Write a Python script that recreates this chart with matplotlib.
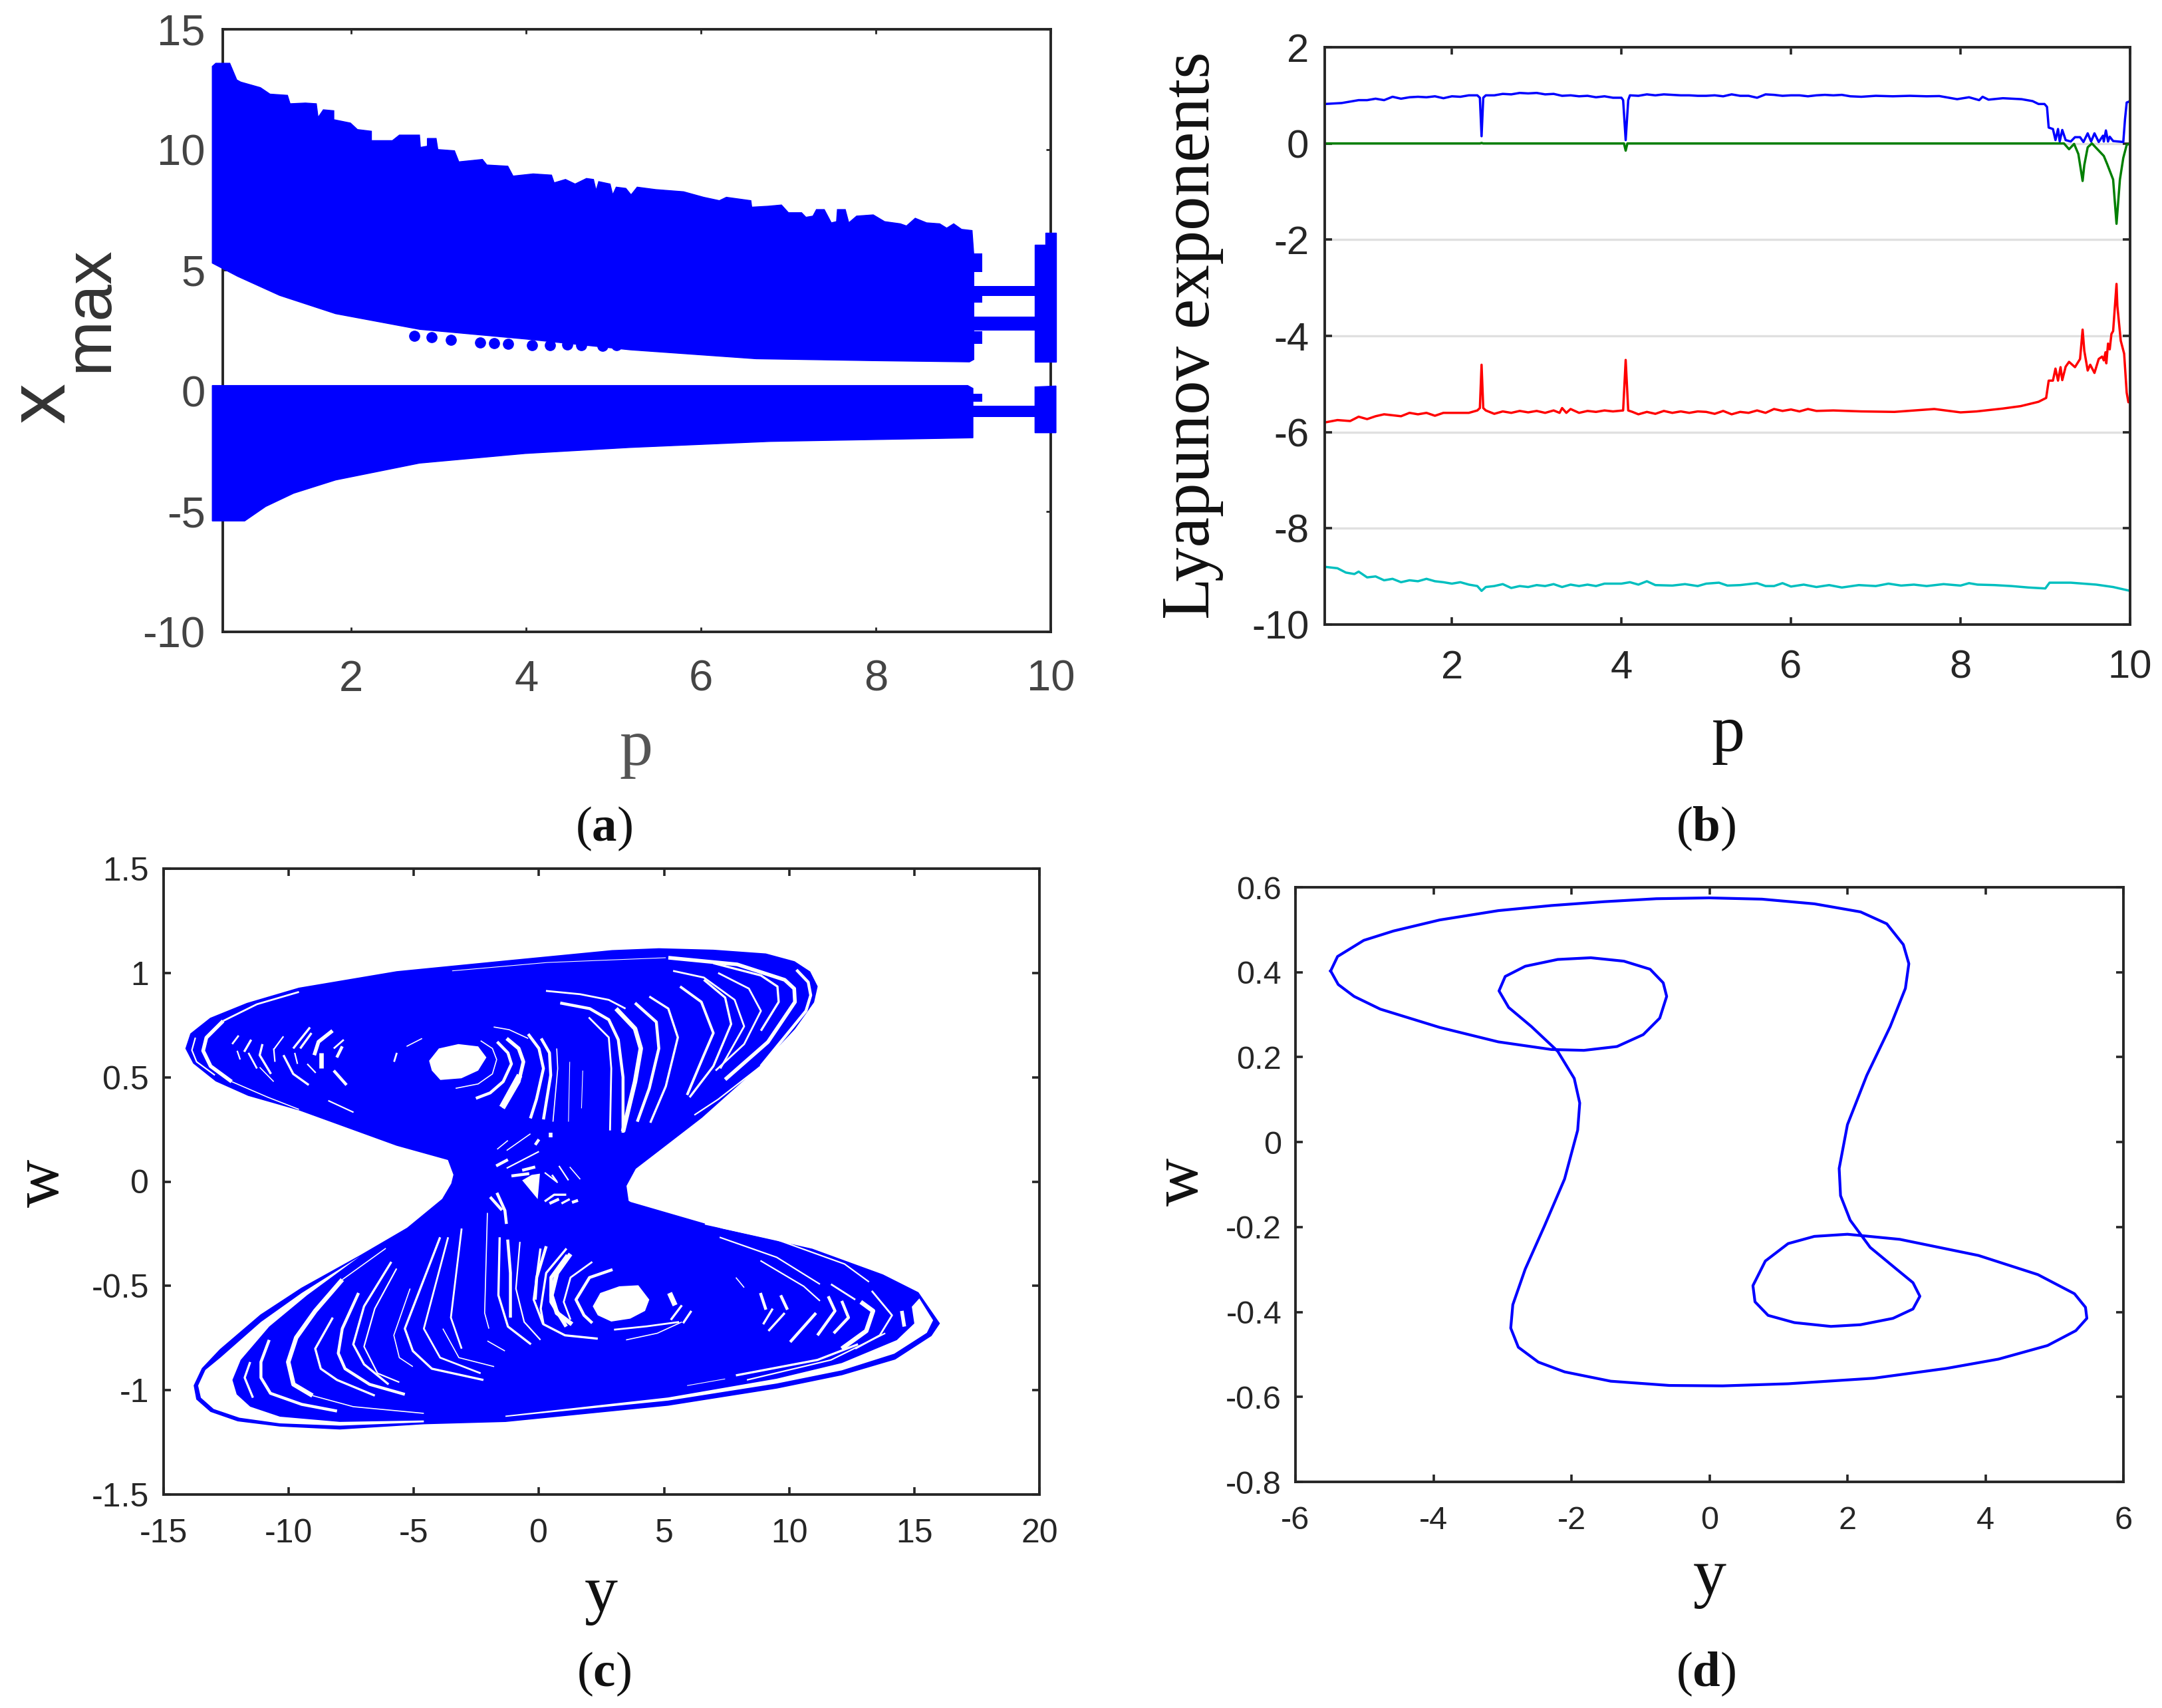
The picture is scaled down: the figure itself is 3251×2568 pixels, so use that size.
import numpy as np
import matplotlib
matplotlib.use('Agg')
import matplotlib.pyplot as plt

W, H = 3251, 2568
plt.rcParams['font.family'] = 'Liberation Sans'
plt.rcParams['mathtext.fontset'] = 'custom'
plt.rcParams['mathtext.rm'] = 'Liberation Serif'
plt.rcParams['mathtext.bf'] = 'Liberation Serif:bold'

BLUE = '#0000ff'
DARK = '#262626'
SERIF = 'Liberation Serif'

# (a) bifurcation bands
top_p = [0.41, 0.45, 0.61, 0.69, 0.735, 0.96, 1.07, 1.27, 1.3, 1.475, 1.6, 1.62, 1.68, 1.8, 1.8, 1.99, 2.07, 2.23, 2.23,
         2.47, 2.55, 2.78, 2.79, 2.87, 2.87, 2.97, 2.99, 3.18, 3.23, 3.5, 3.55, 3.79, 3.85, 4.08, 4.29, 4.32, 4.45, 4.56,
         4.69, 4.77, 4.8, 4.83, 4.96, 4.99, 5.03, 5.14, 5.2, 5.27, 5.48, 5.8, 6.03, 6.21, 6.29, 6.57, 6.58, 6.77, 6.92,
         7.0, 7.15, 7.2, 7.28, 7.32, 7.41, 7.49, 7.55, 7.56, 7.65, 7.69, 7.78, 7.97, 8.1, 8.28, 8.35, 8.45, 8.58, 8.73,
         8.81, 8.89, 8.98, 9.1, 9.12]
top_x = [13.46, 13.59, 13.59, 12.9, 12.81, 12.58, 12.31, 12.26, 11.91, 11.94, 11.91, 11.34, 11.66, 11.62, 11.25, 11.11,
         10.84, 10.77, 10.38, 10.38, 10.61, 10.61, 10.1, 10.15, 10.47, 10.47, 10.01, 9.96, 9.5, 9.6, 9.37, 9.32, 8.91, 9.0,
         8.95, 8.63, 8.77, 8.58, 8.81, 8.77, 8.31, 8.68, 8.58, 8.13, 8.45, 8.4, 8.13, 8.45, 8.35, 8.26, 8.03, 7.89, 8.03,
         7.89, 7.62, 7.66, 7.71, 7.39, 7.39, 7.2, 7.25, 7.52, 7.52, 6.97, 7.02, 7.52, 7.52, 6.97, 7.25, 7.3, 7.02, 6.93,
         6.84, 7.16, 6.97, 6.93, 6.75, 6.93, 6.7, 6.65, 5.64]
upper_low_p = [0.41, 0.70, 1.18, 1.82, 2.78, 3.99, 5.19, 6.63, 7.99, 9.07, 9.12]
upper_low_x = [5.3, 4.75, 3.96, 3.2, 2.55, 2.15, 1.7, 1.33, 1.25, 1.2, 1.3]
lower_top_p = [0.41, 9.05, 9.11]
lower_top_x = [0.22, 0.22, 0.1]
lower_low_p = [0.41, 0.78, 1.02, 1.34, 1.82, 2.78, 3.99, 5.19, 6.79, 9.11]
lower_low_x = [-5.4, -5.4, -4.8, -4.25, -3.7, -3.0, -2.6, -2.35, -2.1, -1.95]
stray_p = [2.72, 2.92, 3.14, 3.47, 3.63, 3.79, 4.07, 4.27, 4.47, 4.63, 4.87, 5.03, 5.23]
stray_x = [2.27, 2.23, 2.12, 2.0, 1.98, 1.94, 1.89, 1.89, 1.93, 1.89, 1.87, 1.89, 1.93]
# narrow periodic windows: p start, p end, x low, x high
win_p0 = [9.1, 9.1, 9.1, 9.1, 9.1, 9.1, 9.1]
win_p1 = [9.85, 9.85, 9.85, 9.22, 9.22, 9.22, 9.22]
win_lo = [3.93, 2.51, -1.08, 4.94, 3.65, 1.96, -0.44]
win_hi = [4.35, 3.07, -0.63, 5.69, 4.03, 2.46, -0.11]
block_p = [9.82, 9.82, 9.94, 9.94, 10.06, 10.06, 9.82]
block_x = [1.21, 6.05, 6.05, 6.55, 6.55, 1.21, 1.21]
block2_p = [9.82, 9.82, 10.06, 10.06]
block2_x = [-1.74, 0.16, 0.2, -1.74]

# (b) Lyapunov exponents
le1_p = [0.5, 0.7, 0.9, 1.0, 1.1, 1.2, 1.3, 1.4, 1.5, 1.6, 1.7, 1.8, 1.9, 2.0, 2.1, 2.2, 2.3, 2.33, 2.35, 2.37, 2.4,
         2.5, 2.6, 2.7, 2.8, 2.9, 3.0, 3.1, 3.2, 3.3, 3.4, 3.5, 3.6, 3.7, 3.8, 3.9, 4.0, 4.02, 4.05, 4.08, 4.1,
         4.2, 4.3, 4.4, 4.5, 4.6, 4.7, 4.8, 4.9, 5.0, 5.1, 5.2, 5.3, 5.4, 5.5, 5.6, 5.7, 5.8, 5.9, 6.0, 6.1, 6.2,
         6.3, 6.4, 6.5, 6.6, 6.7, 6.83, 7.0, 7.2, 7.4, 7.6, 7.75, 7.96, 8.1, 8.22, 8.26, 8.33, 8.5, 8.72, 8.85,
         8.92, 8.99, 9.02, 9.04, 9.09, 9.12, 9.15, 9.17, 9.2, 9.24, 9.3, 9.35, 9.41, 9.45, 9.5, 9.54, 9.58, 9.63,
         9.68, 9.69, 9.715, 9.74, 9.76, 9.8, 9.92, 9.94, 9.96, 10.0]
le1_v = [0.82, 0.84, 0.9, 0.9, 0.93, 0.9, 0.97, 0.93, 0.96, 0.97, 0.96, 0.98, 0.94, 0.98, 0.97, 1.0, 1.0, 0.95, 0.15,
         0.95, 1.0, 1.0, 1.03, 1.02, 1.05, 1.04, 1.05, 1.02, 1.03, 0.99, 1.0, 0.98, 0.99, 0.96, 0.98, 0.95, 0.95, 0.9,
         0.07, 0.9, 1.0, 0.99, 1.02, 1.0, 1.02, 1.01, 1.0, 1.0, 0.99, 0.99, 1.0, 0.98, 1.02, 0.99, 0.99, 0.95, 1.02,
         1.01, 0.99, 1.0, 1.0, 0.98, 1.0, 1.01, 1.0, 1.01, 0.98, 0.97, 0.99, 0.98, 0.99, 0.98, 0.985, 0.92, 0.96,
         0.90, 0.97, 0.91, 0.94, 0.92, 0.88, 0.82, 0.82, 0.76, 0.33, 0.30, 0.07, 0.30, 0.04, 0.28, 0.07, 0.04, 0.13,
         0.13, 0.03, 0.21, 0.04, 0.21, 0.03, 0.16, 0.04, 0.27, 0.04, 0.14, 0.05, 0.03, 0.5, 0.85, 0.88]
le2_p = [0.5, 2.33, 2.35, 2.37, 4.03, 4.05, 4.07, 9.1, 9.22, 9.28, 9.34, 9.39, 9.44, 9.46, 9.5, 9.55, 9.69, 9.73, 9.8,
         9.84, 9.88, 9.92, 9.96, 10.0]
le2_v = [0.0, 0.0, 0.01, 0.0, 0.0, -0.15, 0.0, 0.0, 0.0, -0.12, -0.01, -0.22, -0.78, -0.45, -0.08, 0.0, -0.26, -0.43,
         -0.75, -1.67, -0.75, -0.3, -0.03, 0.0]
le3_p = [0.5, 0.65, 0.8, 0.9, 1.0, 1.1, 1.2, 1.4, 1.5, 1.6, 1.7, 1.8, 1.9, 2.0, 2.1, 2.2, 2.3, 2.33, 2.35, 2.37, 2.4,
         2.5, 2.6, 2.7, 2.8, 2.9, 3.0, 3.1, 3.2, 3.27, 3.3, 3.35, 3.4, 3.5, 3.6, 3.7, 3.8, 3.9, 4.02, 4.05, 4.08, 4.13,
         4.2, 4.3, 4.4, 4.5, 4.6, 4.7, 4.8, 4.9, 5.0, 5.1, 5.2, 5.3, 5.4, 5.5, 5.6, 5.7, 5.8, 5.9, 6.0, 6.1, 6.2, 6.3,
         6.5, 6.83, 7.22, 7.69, 8.0, 8.19, 8.5, 8.71, 8.92, 9.01, 9.04, 9.09, 9.12, 9.15, 9.18, 9.2, 9.24,
         9.28, 9.35, 9.41, 9.44, 9.46, 9.5, 9.53, 9.58, 9.63, 9.67, 9.69, 9.71, 9.72, 9.74, 9.76, 9.78, 9.8, 9.84,
         9.85, 9.89, 9.93, 9.96, 9.98, 10.0]
le3_v = [-5.8, -5.75, -5.77, -5.68, -5.73, -5.67, -5.63, -5.67, -5.6, -5.63, -5.6, -5.66, -5.6, -5.6, -5.6, -5.6, -5.55,
         -5.5, -4.6, -5.5, -5.55, -5.62, -5.57, -5.6, -5.56, -5.59, -5.56, -5.6, -5.55, -5.6, -5.5, -5.6, -5.52, -5.6,
         -5.56, -5.58, -5.55, -5.57, -5.55, -4.5, -5.55, -5.58, -5.63, -5.58, -5.62, -5.56, -5.6, -5.57, -5.6, -5.57, -5.58,
         -5.62, -5.56, -5.63, -5.58, -5.6, -5.55, -5.6, -5.52, -5.56, -5.53, -5.57, -5.52, -5.56, -5.55, -5.57, -5.58,
         -5.52, -5.59, -5.57, -5.51, -5.46, -5.37, -5.29, -4.93, -4.93, -4.68, -4.93, -4.65, -4.92, -4.64, -4.54, -4.65,
         -4.48, -3.87, -4.31, -4.72, -4.6, -4.77, -4.48, -4.43, -4.51, -4.34, -4.57, -4.16, -4.28, -3.96, -3.9, -2.92,
         -3.38, -4.1, -4.37, -5.18, -5.38, -5.35]
le4_p = [0.5, 0.65, 0.75, 0.85, 0.9, 1.0, 1.1, 1.2, 1.3, 1.4, 1.5, 1.6, 1.7, 1.8, 1.9, 2.0, 2.1, 2.2, 2.3, 2.35, 2.4,
         2.5, 2.6, 2.7, 2.8, 2.9, 3.0, 3.1, 3.2, 3.3, 3.4, 3.5, 3.6, 3.7, 3.8, 4.0, 4.1, 4.2, 4.3, 4.4, 4.6, 4.75, 4.9,
         5.0, 5.15, 5.25, 5.4, 5.6, 5.7, 5.8, 5.9, 6.0, 6.15, 6.3, 6.45, 6.6, 6.8, 7.0, 7.15, 7.3, 7.45, 7.6, 7.8,
         8.0, 8.1, 8.2, 8.4, 8.6, 8.8, 9.0, 9.05, 9.3, 9.6, 9.8, 10.0]
le4_v = [-8.8, -8.83, -8.92, -8.95, -8.9, -9.02, -9.0, -9.08, -9.05, -9.12, -9.08, -9.1, -9.05, -9.1, -9.12, -9.15,
         -9.12, -9.17, -9.2, -9.3, -9.22, -9.2, -9.16, -9.24, -9.2, -9.22, -9.18, -9.2, -9.16, -9.22, -9.17, -9.2, -9.17,
         -9.2, -9.15, -9.15, -9.12, -9.17, -9.1, -9.18, -9.19, -9.16, -9.2, -9.15, -9.13, -9.19, -9.18, -9.14, -9.2, -9.2,
         -9.14, -9.21, -9.17, -9.22, -9.18, -9.23, -9.18, -9.2, -9.15, -9.19, -9.17, -9.2, -9.16, -9.19, -9.14, -9.17,
         -9.18, -9.2, -9.23, -9.25, -9.13, -9.13, -9.17, -9.22, -9.3]

# (c) attractor: outer edge, white pockets, and the light gaps between the orbits
edge_y = [-14.09, -13.9, -13.12, -11.66, -9.59, -5.68, -1.2, 2.92, 4.79, 6.97, 9.06, 10.2, 10.81, 11.1, 10.96, 10.2, 8.87,
          6.49, 4.88, 3.84, 3.46, 3.55, 3.65, 7.33, 10.91, 13.73, 15.14, 15.98, 15.66, 14.22, 12.1, 9.5, 5.16, -1.34, -4.6,
          -7.96, -10.35, -12.03, -13.11, -13.66, -13.76, -13.44, -12.73, -11.11, -9.48, -7.15, -5.25, -3.84, -3.47, -3.38,
          -3.61, -5.68, -9.59, -11.61, -12.9, -13.79, -14.09]
edge_w = [0.638, 0.707, 0.781, 0.852, 0.925, 1.004, 1.057, 1.105, 1.114, 1.107, 1.089, 1.052, 1.004, 0.935, 0.861, 0.733,
          0.564, 0.309, 0.16, 0.064, -0.02, -0.095, -0.102, -0.23, -0.326, -0.449, -0.534, -0.68, -0.737, -0.849, -0.924,
          -0.988, -1.07, -1.148, -1.159, -1.184, -1.17, -1.145, -1.10, -1.042, -0.978, -0.897, -0.807, -0.641, -0.513,
          -0.358, -0.225, -0.086, -0.011, 0.033, 0.107, 0.176, 0.346, 0.415, 0.484, 0.569, 0.638]
pocket_y = [
    [-4.39, -4.0, -3.22, -2.43, -2.1, -2.43, -3.1, -3.94, -4.28],
    [2.15, 2.45, 3.21, 3.97, 4.41, 4.24, 3.65, 2.89, 2.35],
    [-7.15, -9.48, -11.11, -12.73, -13.33, -13.62, -13.51, -13.0, -11.97, -10.35, -7.96, -4.6, -4.6, -7.96, -10.35,
     -11.54, -12.08, -12.25, -11.92, -10.78, -9.27],
    [15.2, 15.75, 15.5, 14.2, 12.1, 9.5, 5.16, -1.34, -1.34, 5.16, 9.5, 12.1, 14.3, 15.0, 14.9],
    [-0.67, -0.29, 0.04, -0.05, -0.34],
]
pocket_w = [
    [0.579, 0.638, 0.659, 0.648, 0.595, 0.532, 0.495, 0.487, 0.532],
    [-0.598, -0.534, -0.502, -0.497, -0.566, -0.62, -0.657, -0.671, -0.641],
    [-0.358, -0.534, -0.673, -0.844, -0.903, -0.978, -1.036, -1.09, -1.132, -1.159, -1.17, -1.154, -1.145, -1.152, -1.127,
     -1.079, -1.02, -0.951, -0.855, -0.695, -0.545],
    [-0.56, -0.665, -0.725, -0.825, -0.905, -0.968, -1.05, -1.128, -1.122, -1.035, -0.945, -0.87, -0.76, -0.68, -0.6],
    [0.006, 0.032, 0.038, -0.084, -0.042],
]
gaps_y = [
    # top lobe, left side
    [-13.73, -13.87, -13.68, -12.95], [-9.59, -11.27, -12.62], [-12.62, -13.29, -13.42, -13.12, -12.28],
    [-12.28, -10.83, -9.59], [-12.0, -12.26], [-11.94, -12.06], [-11.5, -11.78], [-11.61, -11.27],
    [-11.05, -11.16, -10.71], [-10.21, -10.6], [-10.6, -10.55], [-10.21, -9.82, -9.2], [-9.15, -9.82], [-9.09, -9.54],
    [-9.76, -9.65], [-8.25, -8.81, -8.98], [-8.7, -8.7], [-7.8, -8.2], [-7.86, -8.08], [-8.2, -7.69], [-9.26, -8.92],
    [-11.16, -10.6], [-8.42, -7.41], [-5.68, -5.79], [-4.67, -5.29],
    # top lobe, round the hole and to the right
    [-2.33, -1.86, -1.69, -1.86, -2.43, -3.33], [-1.67, -1.24, -1.1, -1.43, -1.95, -2.52],
    [-1.29, -0.81, -0.62, -0.81, -1.43], [-0.77, -1.48], [-0.43, 0.0, 0.18, -0.1, -0.34], [-1.81, -1.19, -0.43],
    [0.09, 0.42, 0.47, 0.18], [0.71, 0.75, 0.56], [1.23, 1.18], [1.75, 1.7], [1.99, 2.79, 2.89, 2.84],
    [0.28, 1.65, 2.79, 3.46], [0.85, 2.03, 2.79, 3.17, 3.36, 3.36], [3.08, 3.84, 4.07, 3.84, 3.36],
    [3.84, 4.69, 4.79, 4.41, 3.93], [4.41, 5.17, 5.55, 5.07, 4.45], [5.64, 6.49, 6.97, 6.59, 5.92],
    [6.59, 7.44, 7.68, 6.97, 6.02], [5.36, 6.59, 7.82, 8.2, 7.25], [7.16, 8.39, 8.87, 8.2, 7.06],
    [5.17, 7.92, 9.82, 10.2, 10.23, 9.15, 7.44], [6.97, 8.87, 9.53, 9.58, 8.87], [10.29, 10.76, 10.86, 10.67, 8.87],
    [8.87, 7.16, 6.21], [-3.47, 0.33, 5.07],
    # bottom lobe, left side
    [-7.86, -8.94, -9.7, -10.02, -9.81, -9.05], [-6.12, -7.86], [-9.05, -7.42, -4.6],
    [-10.78, -11.11, -11.11, -10.73, -9.48, -8.07], [-11.54, -11.76, -11.43], [-8.24, -8.94, -8.72, -8.07, -6.56],
    [-7.21, -7.86, -8.02, -7.75, -6.77, -5.36], [-5.9, -6.99, -7.42, -6.99, -6.01], [-5.69, -6.56, -6.99, -6.45, -5.58],
    [-3.95, -5.36, -5.04, -4.28, -2.22], [-5.15, -5.8, -5.58, -5.04], [-3.63, -4.6, -3.95, -2.33], [-3.09, -3.52, -3.09],
    [-3.84, -3.2, -1.79], [-2.06, -2.17, -2.0], [-1.57, -1.62, -1.24, -0.32], [-1.25, -1.14, -1.14], [-1.68, -1.36, -1.3],
    [-0.76, -0.92, -0.59, 0.06], [0.06, -0.21, 0.17], [1.14, 0.49, 0.49, 1.09], [-2.06, -1.36],
    # bottom lobe, round the hole and to the right
    [2.94, 2.02, 1.48, 1.8, 2.13], [1.26, 0.72, 0.5, 0.72, 1.32], [2.13, 1.26, 0.99, 1.26], [1.1, 0.29, 0.07, 0.18, 1.04, 2.35],
    [0.29, -0.09, -0.15], [3.0, 4.3, 5.6], [3.48, 4.73, 5.71], [5.71, 5.27], [5.22, 5.44], [6.09, 5.76], [7.87, 8.2],
    [8.85, 9.07], [9.66, 9.93], [9.34, 8.96], [9.82, 9.17], [11.07, 10.04], [11.56, 11.83, 11.13], [12.1, 12.37, 11.78],
    [12.86, 13.35, 13.08, 12.1], [11.67, 12.64], [13.3, 14.11, 13.62, 12.64], [7.22, 9.5, 11.23], [8.85, 10.58, 11.23],
    [6.63, 9.5, 12.21, 13.19], [14.5, 14.6], [7.87, 11.13, 12.75], [8.31, 11.67, 13.84], [5.92, 7.44],
    # waist
    [-1.1, -0.39], [-0.67, -0.15], [-1.71, -1.24], [-1.29, 0.0], [-1.29, -0.34], [-1.67, -1.24], [0.0, -0.15], [0.47, 0.47],
    [0.52, 0.71], [0.8, 1.18], [1.23, 1.65], [0.23, 0.75], [0.23, 0.61, 1.09], [0.42, 0.8], [0.9, 1.23], [1.32, 1.56],
    [-1.95, -1.48],
]
gaps_w = [
    [0.69, 0.63, 0.574, 0.51], [0.909, 0.85, 0.77], [0.77, 0.69, 0.627, 0.553, 0.479],
    [0.479, 0.404, 0.346], [0.70, 0.659], [0.585, 0.627], [0.68, 0.622], [0.617, 0.542],
    [0.659, 0.606, 0.516], [0.696, 0.633], [0.638, 0.574], [0.606, 0.516, 0.463], [0.739, 0.638], [0.712, 0.638],
    [0.617, 0.564], [0.723, 0.67, 0.606], [0.617, 0.542], [0.68, 0.638], [0.648, 0.595], [0.532, 0.463], [0.564, 0.521],
    [0.548, 0.479], [0.388, 0.332], [0.617, 0.574], [0.686, 0.648],
    [0.675, 0.638, 0.585, 0.516, 0.468, 0.447], [0.67, 0.617, 0.564, 0.479, 0.425, 0.399],
    [0.686, 0.638, 0.574, 0.479, 0.351], [0.51, 0.356], [0.707, 0.638, 0.542, 0.394, 0.303], [0.741, 0.728, 0.686],
    [0.686, 0.617, 0.51, 0.298], [0.638, 0.542, 0.287], [0.574, 0.287], [0.532, 0.351], [0.787, 0.691, 0.542, 0.245],
    [0.914, 0.898, 0.871, 0.829], [0.856, 0.829, 0.776, 0.68, 0.5, 0.234], [0.829, 0.733, 0.638, 0.479, 0.24],
    [0.856, 0.765, 0.638, 0.447, 0.287], [0.887, 0.829, 0.691, 0.457, 0.282], [0.935, 0.861, 0.712, 0.606, 0.415],
    [0.967, 0.882, 0.755, 0.553, 0.404], [1.01, 0.978, 0.871, 0.744, 0.542], [1.0, 0.925, 0.818, 0.659, 0.532],
    [1.073, 1.041, 0.967, 0.925, 0.861, 0.669, 0.489], [1.047, 0.988, 0.935, 0.861, 0.723], [1.015, 0.956, 0.893, 0.818, 0.553],
    [0.553, 0.394, 0.319], [1.01, 1.05, 1.073],
    [-0.47, -0.62, -0.748, -0.865, -0.972, -1.026], [-0.32, -0.47], [-1.026, -1.079, -1.111],
    [-0.759, -0.865, -0.94, -1.015, -1.068, -1.1], [-0.865, -0.94, -1.036], [-0.652, -0.801, -0.897, -0.951, -1.026],
    [-0.534, -0.705, -0.823, -0.897, -0.972, -1.02], [-0.385, -0.598, -0.78, -0.876, -0.972], [-0.417, -0.609, -0.791, -0.919, -0.962],
    [-0.267, -0.705, -0.812, -0.897, -0.951], [-0.513, -0.737, -0.844, -0.887], [-0.267, -0.705, -0.844, -0.919], [-0.225, -0.652, -0.801],
    [-0.705, -0.844, -0.887], [-0.15, -0.63, -0.705], [-0.267, -0.545, -0.695, -0.78], [-0.278, -0.438, -0.652], [-0.054, -0.139, -0.203],
    [-0.289, -0.513, -0.673, -0.759], [-0.321, -0.566, -0.684], [-0.353, -0.46, -0.577, -0.695], [-0.764, -0.812],
    [-0.422, -0.46, -0.566, -0.641, -0.678], [-0.347, -0.438, -0.545, -0.63, -0.684], [-0.385, -0.46, -0.577, -0.662],
    [-0.321, -0.438, -0.609, -0.684, -0.737, -0.753],
    [-0.31, -0.46, -0.566], [-0.71, -0.694, -0.673], [-0.759, -0.727, -0.673], [-0.593, -0.663], [-0.534, -0.593], [-0.62, -0.679],
    [-0.46, -0.508], [-0.534, -0.614], [-0.545, -0.614], [-0.609, -0.684], [-0.63, -0.716], [-0.63, -0.769], [-0.55, -0.62, -0.737],
    [-0.572, -0.652, -0.727], [-0.577, -0.62, -0.716, -0.801], [-0.492, -0.566], [-0.524, -0.641, -0.737, -0.801],
    [-0.267, -0.363, -0.492], [-0.379, -0.502, -0.572], [-0.203, -0.278, -0.395, -0.481], [-0.62, -0.695],
    [-0.929, -0.855, -0.78], [-0.951, -0.855, -0.727], [-0.978, -0.946],
    [0.027, 0.038], [0.054, 0.07], [0.075, 0.105], [0.064, 0.144], [0.149, 0.229], [0.155, 0.197], [0.202, 0.176], [0.234, 0.213],
    [0.032, -0.0], [0.075, 0.006], [0.07, 0.011], [0.043, -0.005], [-0.095, -0.063, -0.063], [-0.105, -0.084], [-0.105, -0.084],
    [-0.1, -0.09], [-0.074, -0.137],
]
gap_lw = [
    2, 2.5, 5, 1.5, 2.5, 2, 3, 2.5, 3, 2, 2, 3, 3, 3, 2, 5, 6, 2.5, 4, 4, 2, 1.5, 2, 2.5, 1.5,
    1.5, 4, 5, 8, 4, 1.5, 4, 1.5, 1, 1, 2.5, 2.5, 4, 6, 4, 3, 3.5, 3, 2.5, 2.5, 5, 3, 4, 2, 1,
    6, 1.5, 1.5, 4, 3, 3, 4, 3, 2, 3, 1.5, 2.5, 2.5, 1.5, 1.5, 3, 4, 4, 2, 3, 5, 1.5,
    4, 6, 2.5, 3, 4, 2.5, 1.5, 3, 7, 3, 1.5, 4, 4, 3, 3, 4, 4, 4, 6, 2.5, 2.5, 2, 2, 2, 5, 3, 2, 1,
    4, 4, 4, 2, 1.5, 1.5, 4, 5, 2.5, 2, 1.5, 2, 3, 4, 3, 4, 4,
]

# (d) limit cycle
cycle_y = [-5.49, -5.39, -5.01, -4.58, -3.91, -3.06, -2.29, -1.53, -0.77, -0.005, 0.76, 1.52, 2.19, 2.57, 2.81, 2.89,
           2.84, 2.62, 2.28, 2.0, 1.88, 1.9, 2.04, 2.33, 2.71, 2.95, 3.05, 2.95, 2.66, 2.19, 1.76, 1.23, 0.85, 0.66, 0.63,
           0.81, 1.14, 1.52, 2.0, 2.76, 3.9, 4.76, 5.29, 5.45, 5.47, 5.31, 4.9, 4.19, 3.43, 2.38, 1.14, 0.19, -0.58, -1.43,
           -2.1, -2.48, -2.77, -2.88, -2.85, -2.67, -2.39, -2.1, -1.91, -1.88, -1.96, -2.2, -2.58, -2.91, -3.05, -2.96,
           -2.67, -2.2, -1.72, -1.24, -0.86, -0.67, -0.62, -0.72, -0.96, -1.34, -1.82, -2.29, -3.06, -3.91, -4.77, -5.15,
           -5.38, -5.49]
cycle_w = [0.403, 0.437, 0.475, 0.497, 0.523, 0.545, 0.557, 0.566, 0.573, 0.575, 0.572, 0.561, 0.542, 0.514, 0.465, 0.42,
           0.362, 0.272, 0.157, 0.041, -0.062, -0.126, -0.184, -0.248, -0.299, -0.331, -0.363, -0.393, -0.415, -0.43,
           -0.434, -0.425, -0.408, -0.376, -0.338, -0.28, -0.239, -0.222, -0.217, -0.229, -0.267, -0.312, -0.357, -0.389,
           -0.415, -0.444, -0.479, -0.511, -0.533, -0.556, -0.569, -0.574, -0.573, -0.563, -0.541, -0.518, -0.483, -0.438,
           -0.383, -0.299, -0.197, -0.087, 0.028, 0.092, 0.15, 0.214, 0.272, 0.317, 0.356, 0.39, 0.414, 0.43, 0.434, 0.426,
           0.407, 0.375, 0.343, 0.292, 0.253, 0.225, 0.216, 0.218, 0.236, 0.27, 0.313, 0.343, 0.371, 0.403]

fig = plt.figure(figsize=(W / 100, H / 100), dpi=100)


def make_axes(left, top, right, bottom, xlim, ylim, xticks, yticks, xlabels, ylabels, size, xpad, ypad, color=DARK):
    ax = fig.add_axes([left / W, 1 - bottom / H, (right - left) / W, (bottom - top) / H])
    ax.set_xlim(*xlim)
    ax.set_ylim(*ylim)
    ax.set_xticks(xticks)
    ax.set_yticks(yticks)
    ax.set_xticklabels(xlabels)
    ax.set_yticklabels(ylabels)
    ax.tick_params(axis='x', direction='in', top=True, length=8, width=2.6, labelsize=size, pad=xpad,
                   color=DARK, labelcolor=color)
    ax.tick_params(axis='y', direction='in', right=True, length=8, width=2.6, labelsize=size, pad=ypad,
                   color=DARK, labelcolor=color)
    for s in ax.spines.values():
        s.set_linewidth(2.8)
        s.set_color(DARK)
    return ax


def label(x, y, s, size, rotation=0, family=SERIF, color='#111111'):
    fig.text(x / W, 1 - y / H, s, fontsize=size, rotation=rotation, family=family, color=color,
             ha='center', va='center')


# panel a
a = make_axes(335, 44, 1580, 950, (0.53, 10), (-10, 15), [2, 4, 6, 8, 10], [-10, -5, 0, 5, 10, 15],
              ['2', '4', '6', '8', '10'], ['-10', '-5', '0', '5', '10', '15'], 47, 30, 19, color='#444444')
a.tick_params(length=5, width=2)
a.fill(top_p + upper_low_p[::-1], top_x + upper_low_x[::-1], color=BLUE, lw=1, clip_on=False, zorder=3)
a.fill(lower_top_p + lower_low_p[::-1], lower_top_x + lower_low_x[::-1], color=BLUE, lw=1, clip_on=False, zorder=3)
a.fill(block_p, block_x, color=BLUE, clip_on=False, zorder=3)
a.fill(block2_p, block2_x, color=BLUE, clip_on=False, zorder=3)
for p0, p1, lo, hi in zip(win_p0, win_p1, win_lo, win_hi):
    a.fill_between([p0, p1], [lo, lo], [hi, hi], color=BLUE, lw=0, clip_on=False, zorder=3)
a.plot(stray_p, stray_x, 'o', color=BLUE, ms=11, zorder=3)

# panel b
b = make_axes(1992, 71, 3203, 939, (0.5, 10), (-10, 2), [2, 4, 6, 8, 10], [-10, -8, -6, -4, -2, 0, 2],
              ['2', '4', '6', '8', '10'], ['-10', '-8', '-6', '-4', '-2', '0', '2'], 43, 27, 17)
b.yaxis.grid(True, color='#e0e0e0', lw=2.4)
b.set_axisbelow(True)
b.plot(le1_p, le1_v, color=BLUE, lw=2.5)
b.plot(le2_p, le2_v, color='#007f00', lw=2.5)
b.plot(le3_p, le3_v, color='#ff0000', lw=2.5)
b.plot(le4_p, le4_v, color='#00bfbf', lw=2.5)

# panel c
c = make_axes(246, 1306, 1563, 2247, (-15, 20), (-1.5, 1.5), [-15, -10, -5, 0, 5, 10, 15, 20],
              [-1.5, -1, -0.5, 0, 0.5, 1, 1.5],
              ['-15', '-10', '-5', '0', '5', '10', '15', '20'], ['-1.5', '-1', '-0.5', '0', '0.5', '1', '1.5'],
              36, 26, 16)
c.fill(edge_y, edge_w, facecolor=BLUE, edgecolor=BLUE, lw=2)
for py, pw in zip(pocket_y, pocket_w):
    c.fill(py, pw, color='white', lw=0)
for gy, gw, lw in zip(gaps_y, gaps_w, gap_lw):
    c.plot(gy, gw, color='white', lw=lw * 0.8, solid_capstyle='butt', solid_joinstyle='round')

# panel d
d = make_axes(1948, 1334, 3193, 2228, (-6, 6), (-0.8, 0.6), [-6, -4, -2, 0, 2, 4, 6],
              [-0.8, -0.6, -0.4, -0.2, 0, 0.2, 0.4, 0.6],
              ['-6', '-4', '-2', '0', '2', '4', '6'], ['-0.8', '-0.6', '-0.4', '-0.2', '0', '0.2', '0.4', '0.6'],
              35, 26, 15)
d.plot(cycle_y, cycle_w, color=BLUE, lw=3)

# axis titles
fig.text(65 / W, 1 - 605 / H, 'x', fontsize=88, rotation=90, family='Liberation Sans', color='#333333',
         ha='center', va='center')
fig.text(135 / W, 1 - 465 / H, 'max', fontsize=72, rotation=90, family='Liberation Sans', color='#333333',
         ha='center', va='center')
label(956, 1126, 'p', 72, color='#555555')
label(2598, 1105, 'p', 72)
label(1793, 504, 'Lyapunov exponents', 74, rotation=90)
label(904, 2399, 'y', 72)
label(2571, 2374, 'y', 72)
label(64, 1779, 'w', 72, rotation=90)
label(1777, 1777, 'w', 72, rotation=90)

# panel captions
label(908, 1246, r'$\mathrm{(}\mathbf{a}\mathrm{)}$', 54)
label(2565, 1246, r'$\mathrm{(}\mathbf{b}\mathrm{)}$', 54)
label(908, 2517, r'$\mathrm{(}\mathbf{c}\mathrm{)}$', 54)
label(2565, 2517, r'$\mathrm{(}\mathbf{d}\mathrm{)}$', 54)

fig.savefig('out.png', dpi=100)
